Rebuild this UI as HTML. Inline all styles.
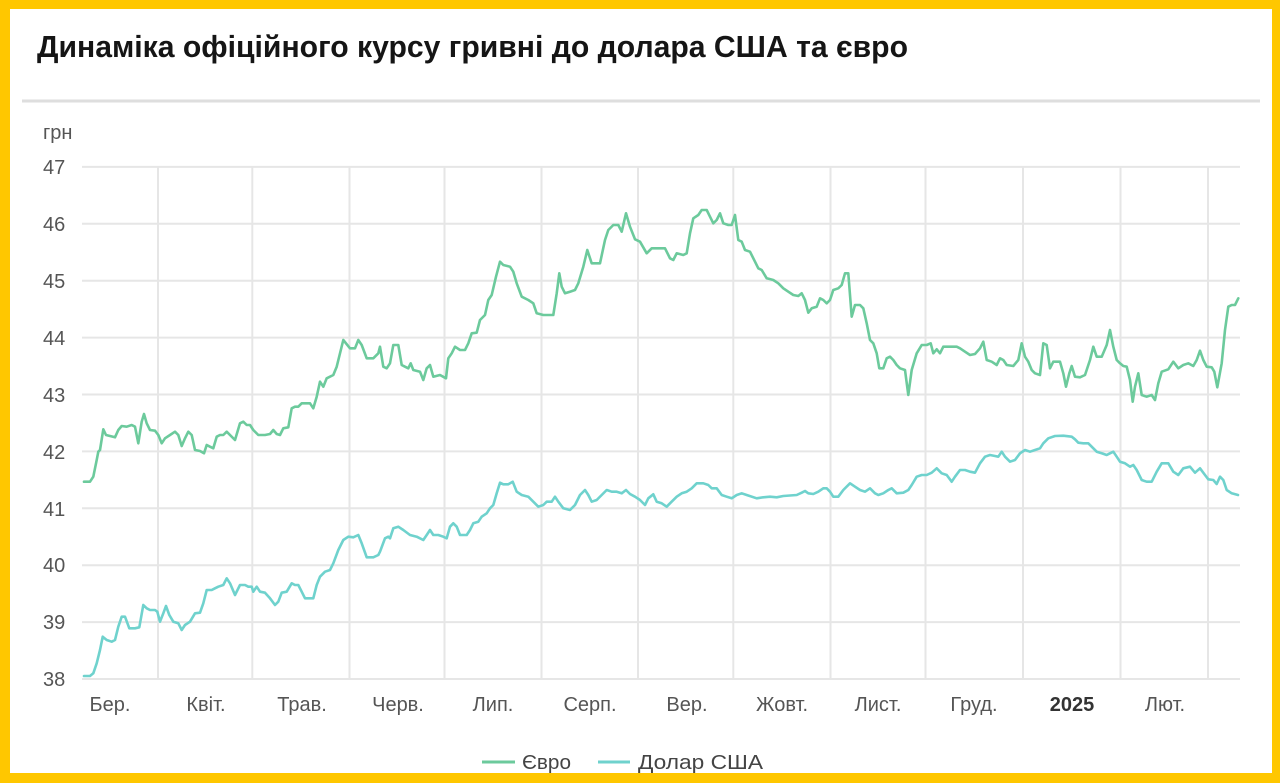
<!DOCTYPE html>
<html>
<head>
<meta charset="utf-8">
<style>
html,body{margin:0;padding:0;background:#FFC700;}
body{width:1280px;height:783px;overflow:hidden;}
svg{display:block;}
text{font-family:"Liberation Sans","DejaVu Sans",sans-serif;}
</style>
</head>
<body>
<svg width="1280" height="783" viewBox="0 0 1280 783" xmlns="http://www.w3.org/2000/svg">
  <rect x="0" y="0" width="1280" height="783" fill="#FFC700"/>
  <rect x="10" y="9" width="1262" height="764" fill="#ffffff"/>

  <!-- Title -->
  <text x="37" y="57" font-size="31" font-weight="bold" fill="#151515" textLength="871" lengthAdjust="spacingAndGlyphs">Динаміка офіційного курсу гривні до долара США та євро</text>
  <line x1="22" y1="101" x2="1260" y2="101" stroke="#dedede" stroke-width="3"/>

  <!-- Horizontal grid -->
  <g stroke="#e6e6e6" stroke-width="2">
    <line x1="82" y1="166.9" x2="1240" y2="166.9"/>
    <line x1="82" y1="223.8" x2="1240" y2="223.8"/>
    <line x1="82" y1="280.7" x2="1240" y2="280.7"/>
    <line x1="82" y1="337.6" x2="1240" y2="337.6"/>
    <line x1="82" y1="394.5" x2="1240" y2="394.5"/>
    <line x1="82" y1="451.4" x2="1240" y2="451.4"/>
    <line x1="82" y1="508.3" x2="1240" y2="508.3"/>
    <line x1="82" y1="565.2" x2="1240" y2="565.2"/>
    <line x1="82" y1="622.1" x2="1240" y2="622.1"/>
    <line x1="82" y1="679" x2="1240" y2="679"/>
  </g>
  <!-- Vertical grid -->
  <g stroke="#e6e6e6" stroke-width="2">
    <line x1="158" y1="166" x2="158" y2="679"/>
    <line x1="252.3" y1="166" x2="252.3" y2="679"/>
    <line x1="349.5" y1="166" x2="349.5" y2="679"/>
    <line x1="444.5" y1="166" x2="444.5" y2="679"/>
    <line x1="541.5" y1="166" x2="541.5" y2="679"/>
    <line x1="638" y1="166" x2="638" y2="679"/>
    <line x1="733.3" y1="166" x2="733.3" y2="679"/>
    <line x1="830.5" y1="166" x2="830.5" y2="679"/>
    <line x1="925.5" y1="166" x2="925.5" y2="679"/>
    <line x1="1023" y1="166" x2="1023" y2="679"/>
    <line x1="1120.5" y1="166" x2="1120.5" y2="679"/>
    <line x1="1208" y1="166" x2="1208" y2="679"/>
  </g>

  <!-- Y labels -->
  <g font-size="20" fill="#555555">
    <text x="43" y="139">грн</text>
    <text x="43" y="174">47</text>
    <text x="43" y="231">46</text>
    <text x="43" y="288">45</text>
    <text x="43" y="345">44</text>
    <text x="43" y="402">43</text>
    <text x="43" y="459">42</text>
    <text x="43" y="516">41</text>
    <text x="43" y="572">40</text>
    <text x="43" y="629">39</text>
    <text x="43" y="686">38</text>
  </g>

  <!-- X labels -->
  <g font-size="20" fill="#555555" text-anchor="middle">
    <text x="110" y="711">Бер.</text>
    <text x="206" y="711">Квіт.</text>
    <text x="302" y="711">Трав.</text>
    <text x="398" y="711">Черв.</text>
    <text x="493" y="711">Лип.</text>
    <text x="590" y="711">Серп.</text>
    <text x="687" y="711">Вер.</text>
    <text x="782" y="711">Жовт.</text>
    <text x="878" y="711">Лист.</text>
    <text x="974" y="711">Груд.</text>
    <text x="1072" y="711" font-weight="bold" fill="#333333">2025</text>
    <text x="1165" y="711">Лют.</text>
  </g>

  <!-- Euro -->
  <polyline fill="none" stroke="#6cca9c" stroke-width="2.6" stroke-linejoin="round" stroke-linecap="round" points="
84,481.7 90,481.7 93.3,476.7 96.7,460 98.3,451.7 100,450 103.3,429.3 106,435 110,436 115,437.3 118.3,430 121.7,426 126.7,426.7 131.7,425 135,426.7 138.3,443.3 141.7,421.7 144,414 146.7,423.3 150,430 155,430.7 158.3,435 161.7,443.3 165,438.3 170,435 175,431.7 178.3,435 181.7,446 185,438.3 188.3,431.7 191.7,435 195,450 200,451 204,453.3 206.7,445 210,446.7 213.3,448.3 216.7,436.7 220,435 223.3,435 226.7,431.7 230,435 235,440 240,423.3 243.3,421.7 246.7,425 250,425 253.3,430 258.3,435 265,435 270,434 273.3,430 276.7,434 280,435 283.3,428.3 288.3,427.3 291.7,408.3 295,406.7 298.3,406.7 301.7,403.3 310,403.3 313.3,408.3 316.7,396.7 320,381.7 323.3,386.7 326.7,378.3 333.3,375 336.7,366.7 343.3,340 350,348.3 355,348.3 358.3,340 361.7,345 366.7,358.3 373.3,358.3 378.3,353.3
380,346.7 383.3,366.7 386.7,368.3 390,363.3 393.3,345 398.3,345 401.7,365 405,366.7 408.3,368.3 410.7,363.3 413.3,370 420,371.7 423.3,380 426.7,368.3 430,365 433.3,376.7 440,375 446,378.3 448.3,358.3 451.7,353.3 455,346.7 460,350 465,350 468.3,343.3 471.7,333.3 476.7,332.7 480,320 485,315 488.3,300 491.7,295 496,276.7 500,261.7 503.3,265 510,266.7 513.3,271.7 516.7,283.3 521.7,296.7 528.3,300 533.3,303.3 536.7,313.3 543.3,315 553.3,315 556.7,293.3 559.3,273.3 561.7,286.7 565,293.3 570,291.7 575,290 578.3,283.3 583.3,266.7 587.3,250 591.7,263.3 600,263.3 605,240 608.3,230 613.3,225 618.3,225 621.7,231.7 626,213.3 630,226.7 635,239.3 640,241.7 646.7,253.3 651.7,248.3 656.7,248.3 665,248.3
670,258.3 673.3,260 676.7,253.3 683.3,255 686.7,253.3 690,233.3 693.3,218.3 698.3,215 701.7,210 706.7,210 710,216.7 713.3,223.3 716.7,220 720,213.3 723.3,223.3 728.3,225 731.7,225 735,215 738.3,240 741.7,241.7 745,250 750,251.7 755,261.7 758.3,268.3 761.7,270 766.7,278.3 773.3,280 778.3,283.3 783.3,288.3 788.3,291.7 793.3,295 798.3,296 801.7,293.3 805,300 808.3,312.7 811.7,308.3 816.7,306.7 820,298.3 823.3,300 826.7,303.3 830,300 833.3,290 838.3,288.3 841.7,285 845,273.3 848.3,273.3 851.7,316.7 855,305 860,305 863.3,308.3 866.7,323.3 870,340 873.3,343.3 876.7,353.3 879.3,368.3 883.3,368.3 886.7,358.3 890,356.7 893.3,360 896.7,365 900,368.3 905,370 908.3,395 911.7,370 916.7,353.3 921.7,345 926.7,345 930.7,343.3 933.3,353.3 936.7,349.3 940,353.3 943.3,346.7 950,346.7 956.7,346.7
960,348.3 965,351.7 970,355 975,354 980,348.3 983.3,341.7 986.7,360 991.7,361.7 996.7,365 1000,358.3 1003.3,360 1006.7,365 1013.3,366 1018.3,360 1021.7,343.3 1025,356.7 1028.3,361.7 1031.7,370 1035,373.3 1040,375 1043.3,343.3 1046.7,345 1050,368.3 1053.3,361.7 1060,361.7 1063.3,373.3 1066,386.7 1069.3,373.3 1071.7,366 1075,376.7 1080,377.3 1085,375 1090,360 1093.3,346.7 1096.7,356.7 1101.7,356.7 1106.7,345 1110,330 1113.3,346.7 1116.7,360 1120,363.3 1123.3,366 1126.7,366.7 1130,380 1132.7,401.7 1135,386.7 1138.3,373.3 1141.7,395 1146.7,396.7 1151.7,395 1155,400 1158.3,383.3 1161.7,371.7 1168.3,369.3 1173.3,361.7 1178.3,368.3 1183.3,365 1188.3,363.3 1193.3,366 1196.7,360 1200,350.7 1203.3,360 1206.7,366.7 1211.7,367.3 1214.3,371.7 1217.3,387.3 1221.7,363.3 1225,330 1228.3,306.7 1231.7,305 1235,305 1238.3,298.3"/>

  <!-- USD -->
  <polyline fill="none" stroke="#6fd2cd" stroke-width="2.6" stroke-linejoin="round" stroke-linecap="round" points="
84,676 90,676 93.3,673.3 96.7,663.3 100,650 102.7,636.7 106.7,640 111.7,641.7 115,640 118.3,626.7 121.7,616.7 125,616.7 129.3,628.3 135,628.3 139.3,627.3 143.3,605 146.7,608.3 150,610 155,610 157.3,611.7 160,621.7 163.3,613.3 166,606 169.3,615 173.3,621.7 178.3,623.3 181.7,630 185,625 190,621.7 195,613.3 200,612.7 203.3,603.3 206.7,590 211.7,590 215,588.3 218.3,586.7 223.3,585 226.7,578.3 230,583.3 235,595 240,585 245,585 248.3,586.7 251.7,586.7 253.3,591.7 256.7,586.7 260,591.7 265,592.7 270,598.3 275,605 278.3,601.7 281.7,592.7 286.7,591.7 291.7,583.3 295,585 298.3,585 301.7,591.7 305,598.3 313.3,598.3 316.7,585 320,576.7 325,571.7 330,570 333.3,563.3 338.3,550 343.3,540 348.3,536.7 353.3,537.3 358.3,535 361.7,543.3 366.7,557.3 373.3,557.3 378.3,555
380,551.7 385,538.3 388.3,536.7 390,538.3 393.3,528.3 398.3,526.7 403.3,530 410,535 416.7,536.7 423.3,540 426.7,535 430,530 433.3,535 438.3,535 443.3,536.7 446.7,538.3 450,526.7 453.3,523.3 456.7,526.7 460,535 466.7,535 470,530 473.3,523.3 478.3,521.7 481.7,516.7 486.7,513.3 490,508.3 493.3,505 496.7,493.3 500,482.7 503.3,484.3 508.3,484.3 512.7,481.7 516.7,491.7 521.7,495 528.3,496.7 533.3,501.7 538.3,506.7 543.3,505 546.7,501.7 551.7,501.7 555,496.7 558.3,501.7 563.3,508.3 570,510 575,505 580,495 585,490 588.3,495 591.7,501.7 596.7,500 601.7,495 606.7,490 611.7,491.7 616.7,491.7 621.7,493.3 626,490 630,494 635,496.7 640,500 645,505 648.3,498.3 653.3,494.3 656.7,501.7 661.7,503.3 666.7,506.7
670,503.3 676.7,496.7 681.7,493.3 686.7,491.7 691.7,488.3 696.7,483.3 703.3,483.3 708.3,485 711.7,488.3 716.7,488.3 721.7,495 726.7,496.7 731.7,498.3 736.7,495 741.7,493.3 746.7,495 756.7,498.3 763.3,497.3 770,496.7 776.7,497.3 783.3,496 796.7,495 801.7,492.7 805,491 808.3,493.3 813.3,494 818.3,491.7 823.3,488.3 826.7,488.3 830,491.7 833.3,496.7 838.3,496.7 843.3,490 850,483.3 855,486.7 860,490 865,491.7 870,488.3 875,493.3 878.3,495 883.3,493.3 888.3,490 891.7,488.3 896.7,493.3 903.3,492.7 908.3,490 911.7,485 916.7,476.7 921.7,475 926.7,475 931.7,472.7 936.7,468.3 941.7,473.3 946.7,475 951.7,481.7 955,476.7 960,470 965,470
970,471.7 975,472.7 980,463.3 985,456.7 990,455 995,456 998.3,456.7 1001.7,451.7 1005,456.7 1010,461.7 1015,460 1020,453.3 1025,450 1030,451.7 1035,450 1040,448.3 1043.3,443.3 1048.3,438.3 1055,436 1063.3,435.7 1071.7,436.7 1075,439.3 1078.3,442.7 1083.3,443.3 1088.3,443.3 1091.7,446.7 1096.7,451.7 1101.7,453.3 1106.7,455 1110,453.3 1113.3,451.7 1116.7,456.7 1120,461.7 1125,463.3 1130,466.7 1133.3,465 1136.7,470 1141.7,480 1146.7,481.7 1151.7,481.7 1156.7,471.7 1161.7,463.3 1168.3,463.3 1173.3,471.7 1178.3,475 1183.3,468.3 1190,466.7 1195,472.7 1200,468.3 1205,475 1208.3,479.3 1213.3,480 1216.7,484 1220,476.7 1223.3,480 1226.7,490 1231.7,493.3 1238,495"/>

  <!-- Legend -->
  <line x1="482" y1="762" x2="515" y2="762" stroke="#6cca9c" stroke-width="3"/>
  <text x="522" y="769" font-size="20" fill="#444444" textLength="49" lengthAdjust="spacingAndGlyphs">Євро</text>
  <line x1="598" y1="762" x2="630" y2="762" stroke="#6fd2cd" stroke-width="3"/>
  <text x="638" y="769" font-size="20" fill="#444444" textLength="125" lengthAdjust="spacingAndGlyphs">Долар США</text>
</svg>
</body>
</html>
